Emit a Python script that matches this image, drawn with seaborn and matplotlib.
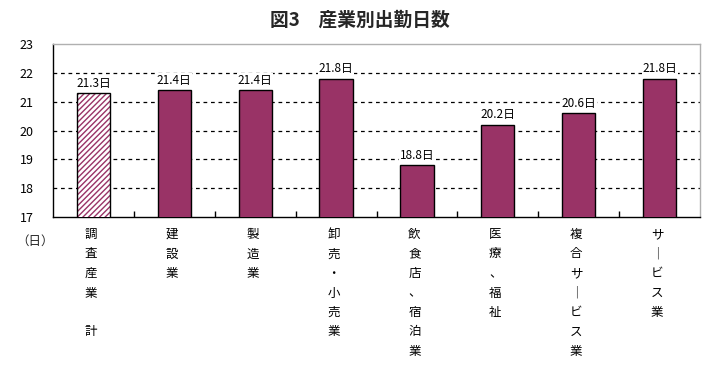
import matplotlib
matplotlib.use("Agg")
import matplotlib.pyplot as plt
import seaborn as sns
import pandas as pd
import matplotlib.transforms as mtransforms

categories = ["調査産業　計", "建設業", "製造業", "卸売・小売業", "飲食店、宿泊業", "医療、福祉", "複合サービス業", "サービス業"]
values = [21.3, 21.4, 21.4, 21.8, 18.8, 20.2, 20.6, 21.8]
value_labels = ["21.3日", "21.4日", "21.4日", "21.8日", "18.8日", "20.2日", "20.6日", "21.8日"]
yticks = [17, 18, 19, 20, 21, 22, 23]

sns.set_theme(style="white")
plt.rcParams['font.family'] = ['Noto Sans CJK JP', 'DejaVu Sans']

color = "#993366"
df = pd.DataFrame({"cat": categories, "val": values})

fig = plt.figure(figsize=(7.2, 3.81), dpi=100)
ax = fig.add_axes([53/720, 1-217/381, (700-53)/720, (217-44)/381])

sns.barplot(data=df, x="cat", y="val", color=color, saturation=1, width=0.41,
            edgecolor="black", linewidth=1.0, ax=ax, zorder=3)

plt.rcParams['hatch.color'] = color
plt.rcParams['hatch.linewidth'] = 1.8
p0 = ax.patches[0]
p0.set_facecolor("white")
p0.set_hatch("//////")
p0._hatch_color = matplotlib.colors.to_rgba(color)

ax.set_ylim(17, 23)
ax.set_xlim(-0.5, len(categories) - 0.5)
ax.set_yticks(yticks)
ax.set_yticklabels([str(t) for t in yticks], fontsize=9, color="black")
ax.tick_params(axis="y", length=0, pad=14)
ax.set_xlabel("")
ax.set_ylabel("")

for y in yticks[1:-1]:
    ax.axhline(y, color="black", linestyle=(0, (3, 3)), linewidth=0.9, zorder=1)

ax.set_xticks(range(len(categories)))
ax.set_xticklabels([""] * len(categories))
ax.tick_params(axis="x", which="major", length=0)
ax.set_xticks([i + 0.5 for i in range(len(categories) - 1)], minor=True)
ax.tick_params(axis="x", which="minor", direction="in", length=4, width=1, color="black", bottom=True)

for side in ["left", "bottom"]:
    ax.spines[side].set_color("black")
    ax.spines[side].set_linewidth(1.0)
for side in ["top", "right"]:
    ax.spines[side].set_color("#b0b0b0")
    ax.spines[side].set_linewidth(1.0)

for i, (v, lab) in enumerate(zip(values, value_labels)):
    ax.annotate(lab, (i, v), xytext=(0, 4.5), textcoords="offset points",
                ha="center", va="baseline", fontsize=8.5, color="black", zorder=4,
                bbox=dict(boxstyle="square,pad=0.05", fc="white", ec="none"))

trans = mtransforms.blended_transform_factory(ax.transData, fig.transFigure)
for i, cat in enumerate(categories):
    vert = "\n".join(list(cat.replace("ー", "｜")))
    ax.text(i - 0.03, 1 - 228/381, vert, transform=trans, ha="center", va="top",
            fontsize=9, linespacing=1.65, color="black")

fig.text(35/720, 1 - 241/381, "（日）", ha="center", va="center", fontsize=9)
fig.suptitle("図3　産業別出勤日数", x=0.5, y=1 - 20/381, va="center",
             fontsize=13.5, fontweight="bold")

fig.savefig("out.png", dpi=100)
